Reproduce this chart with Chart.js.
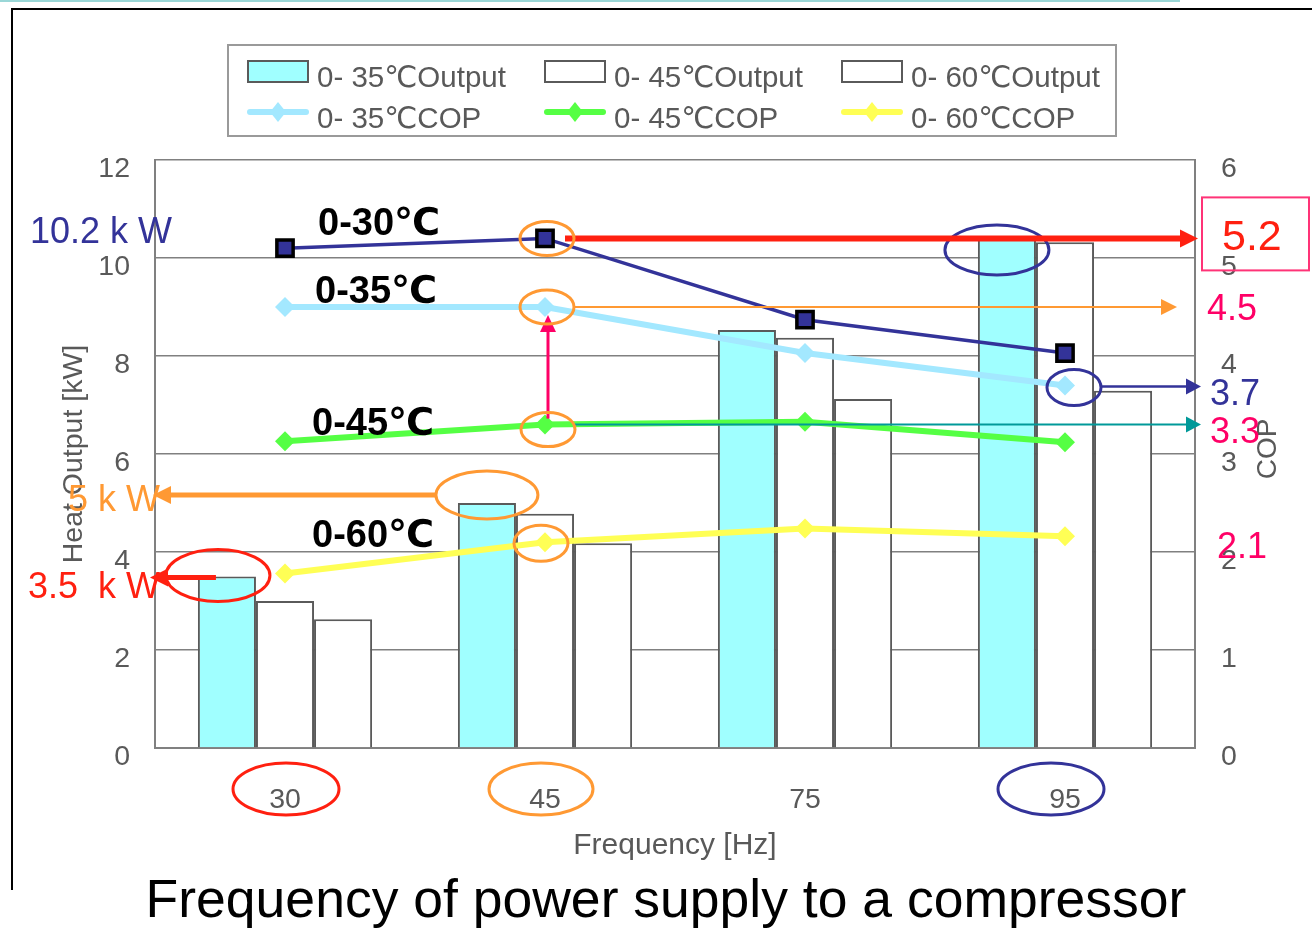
<!DOCTYPE html>
<html>
<head>
<meta charset="utf-8">
<script src="https://cdn.jsdelivr.net/npm/chart.js@4/dist/chart.umd.min.js"></script>
<style>
  html, body { margin: 0; padding: 0; background: #fff; overflow: hidden; }
  canvas { display: block; }
</style>
</head>
<body>
<canvas id="chart" width="1312" height="929"></canvas>
<script>
// Compressor frequency [Hz]
const frequencies = ['30', '45', '75', '95'];

// Heat output [kW] by outlet temperature range
const output35 = [3.5, 5.0, 8.53, 10.45];
const output45 = [3.0, 4.78, 8.37, 10.32];
const output60 = [2.63, 4.18, 7.12, 7.29];

// Coefficient of performance by outlet temperature range
const cop30 = [5.1, 5.2, 4.37, 4.03];
const cop35 = [4.5, 4.5, 4.03, 3.7];
const cop45 = [3.13, 3.3, 3.33, 3.12];
const cop60 = [1.78, 2.1, 2.24, 2.16];

// Axis ranges
const heatAxis = { min: 0, max: 12, step: 2 };
const copAxis = { min: 0, max: 6, step: 1 };

const FONT = "'Liberation Sans', Arial, 'DejaVu Sans', sans-serif";
const TICK_GRAY = '#595959';
const NAVY = '#333399';
const ORANGE = '#ff9933';
const RED = '#ff2010';
const PINK = '#ff0066';
const TEAL = '#009999';

function ellipse(ctx, cx, cy, rx, ry, color, w) {
  ctx.save();
  ctx.strokeStyle = color;
  ctx.lineWidth = w;
  ctx.beginPath();
  ctx.ellipse(cx, cy, rx, ry, 0, 0, Math.PI * 2);
  ctx.stroke();
  ctx.restore();
}

function arrow(ctx, x1, y1, x2, y2, color, w, headLen, headHalf) {
  const ang = Math.atan2(y2 - y1, x2 - x1);
  const bx = x2 - Math.cos(ang) * headLen;
  const by = y2 - Math.sin(ang) * headLen;
  ctx.save();
  ctx.strokeStyle = color;
  ctx.fillStyle = color;
  ctx.lineWidth = w;
  ctx.beginPath();
  ctx.moveTo(x1, y1);
  ctx.lineTo(bx + Math.cos(ang) * 2, by + Math.sin(ang) * 2);
  ctx.stroke();
  ctx.beginPath();
  ctx.moveTo(x2, y2);
  ctx.lineTo(bx + Math.sin(ang) * headHalf, by - Math.cos(ang) * headHalf);
  ctx.lineTo(bx - Math.sin(ang) * headHalf, by + Math.cos(ang) * headHalf);
  ctx.closePath();
  ctx.fill();
  ctx.restore();
}

function text(ctx, str, x, cy, size, color, opts = {}) {
  ctx.save();
  ctx.font = (opts.bold ? 'bold ' : '') + size + 'px ' + FONT;
  ctx.fillStyle = color;
  ctx.textAlign = opts.align || 'left';
  ctx.textBaseline = 'alphabetic';
  ctx.fillText(str, x, cy + size * 0.358);
  ctx.restore();
}

// Legend box, frame lines and call-out annotations
const overlay = {
  id: 'overlay',
  afterDraw(chart) {
    const ctx = chart.ctx;
    const area = chart.chartArea;
    const xs = chart.scales.x;
    const pt = (d, i) => chart.getDatasetMeta(d).data[i];

    // outer frame
    ctx.save();
    ctx.fillStyle = '#9ad7d7';
    ctx.fillRect(0, 0, 1180, 2);
    ctx.fillStyle = '#000';
    ctx.fillRect(12, 8, 1300, 2);
    ctx.fillRect(11, 8, 2, 882);
    ctx.restore();

    // legend
    ctx.save();
    ctx.strokeStyle = '#9a9a9a';
    ctx.lineWidth = 2;
    ctx.strokeRect(228, 45, 888, 91);
    ctx.restore();
    const cols = [248, 545, 842];
    const rows = [71, 112];
    const entries = chart.data.datasets
      .map((ds, i) => ({ ds, i }))
      .filter(e => e.ds.inLegend)
      .sort((a, b) => a.ds.legendSlot - b.ds.legendSlot);
    entries.forEach((e, k) => {
      const col = k % 3, row = Math.floor(k / 3);
      const x = cols[col], y = rows[row];
      const ds = e.ds;
      ctx.save();
      if (ds.type === 'bar') {
        ctx.fillStyle = ds.backgroundColor;
        ctx.fillRect(x, y - 10, 60, 21);
        ctx.strokeStyle = '#5a5a5a';
        ctx.lineWidth = 2;
        ctx.strokeRect(x, y - 10, 60, 21);
      } else {
        ctx.strokeStyle = ds.borderColor;
        ctx.lineWidth = 6;
        ctx.lineCap = 'round';
        ctx.beginPath();
        ctx.moveTo(x + 2, y);
        ctx.lineTo(x + 58, y);
        ctx.stroke();
        ctx.fillStyle = ds.borderColor;
        ctx.beginPath();
        ctx.moveTo(x + 30, y - 10);
        ctx.lineTo(x + 38, y);
        ctx.lineTo(x + 30, y + 10);
        ctx.lineTo(x + 22, y);
        ctx.closePath();
        ctx.fill();
      }
      ctx.restore();
      text(ctx, ds.label, x + 69, y + 5, 29.5, TICK_GRAY);
    });

    // COP axis title (reads bottom to top)
    ctx.save();
    ctx.translate(1268, (area.top + area.bottom) / 2 - 5);
    ctx.rotate(-Math.PI / 2);
    ctx.font = '28px ' + FONT;
    ctx.fillStyle = TICK_GRAY;
    ctx.textAlign = 'center';
    ctx.textBaseline = 'middle';
    ctx.fillText('COP', 0, 0);
    ctx.restore();

    // bar top call-outs
    const b30 = pt(4, 0), b45 = pt(4, 1), b95 = pt(4, 3);
    ellipse(ctx, b30.x - 9, b30.y - 1, 52, 26, RED, 3);
    ellipse(ctx, b45.x, b45.y - 8, 51, 24, ORANGE, 3);
    ellipse(ctx, b95.x - 10, b95.y + 14, 52, 25, NAVY, 3);

    // COP points at 45 Hz
    const a = pt(0, 1), b = pt(1, 1), c = pt(2, 1), d = pt(3, 1);
    const e = pt(1, 3);

    arrow(ctx, a.x + 20, a.y, area.right + 3, a.y, RED, 6, 18, 9);
    arrow(ctx, b.x + 30, b.y, area.right - 18, b.y, ORANGE, 2, 16, 8);
    arrow(ctx, e.x + 36, e.y + 1, area.right + 6, e.y + 1, NAVY, 2.5, 15, 8);
    arrow(ctx, c.x + 30, c.y, area.right + 6, c.y, TEAL, 2, 15, 8);
    arrow(ctx, c.x + 3, c.y - 6, c.x + 3, b.y + 8, PINK, 3, 17, 8);

    ellipse(ctx, a.x + 2, a.y, 27, 17, ORANGE, 3);
    ellipse(ctx, b.x + 2, b.y, 27, 17, ORANGE, 3);
    ellipse(ctx, c.x + 3, c.y + 5, 27, 17, ORANGE, 3);
    ellipse(ctx, d.x - 4, d.y + 1, 27, 18, ORANGE, 3);
    ellipse(ctx, e.x + 9, e.y + 2, 27, 18, NAVY, 3);

    // kW call-outs on the left
    const oy = b45.y - 8;
    arrow(ctx, b45.x - 51, oy, area.left - 2, oy, ORANGE, 5, 18, 9);
    arrow(ctx, b30.x - 11, b30.y + 1, area.left - 5, b30.y + 1, RED, 5, 18, 9);
    text(ctx, '10.2 k W', 30, pt(0, 0).y - 18, 36, NAVY);
    text(ctx, '5 k W', 68, oy + 3, 36, ORANGE);
    text(ctx, '3.5  k W', 28, b30.y + 9, 36, RED);

    // COP call-outs on the right
    ctx.save();
    ctx.strokeStyle = '#ff3377';
    ctx.lineWidth = 2;
    ctx.strokeRect(1202, a.y - 41, 107, 73);
    ctx.restore();
    text(ctx, '5.2', 1222, a.y - 4, 43, RED);
    text(ctx, '4.5', 1207, b.y, 36, PINK);
    text(ctx, '3.7', 1210, e.y + 7, 36, NAVY);
    text(ctx, '3.3', 1210, c.y + 6, 36, PINK);
    text(ctx, '2.1', 1217, d.y + 3, 36, PINK);

    // series names
    text(ctx, '0-30℃', 318, pt(0, 0).y - 27, 38, '#000', { bold: true });
    text(ctx, '0-35℃', 315, pt(1, 0).y - 18, 38, '#000', { bold: true });
    text(ctx, '0-45℃', 312, pt(2, 0).y - 20, 38, '#000', { bold: true });
    text(ctx, '0-60℃', 312, pt(3, 0).y - 40, 38, '#000', { bold: true });

    // circled frequencies
    const ty = area.bottom + 41;
    ellipse(ctx, xs.getPixelForValue(0) + 1, ty, 53, 26, RED, 3);
    ellipse(ctx, xs.getPixelForValue(1) - 4, ty, 52, 26, ORANGE, 3);
    ellipse(ctx, xs.getPixelForValue(3) - 14, ty, 53, 26, NAVY, 3);

    // caption
    text(ctx, 'Frequency of power supply to a compressor', 666, 898, 53.5, '#000', { align: 'center' });
  }
};

const lineBase = { type: 'line', yAxisID: 'cop', tension: 0, fill: false, order: 1 };
const barBase = { type: 'bar', yAxisID: 'kw', borderColor: '#5a5a5a', borderWidth: 2, order: 10 };

new Chart(document.getElementById('chart'), {
  data: {
    labels: frequencies,
    datasets: [
      { ...lineBase, label: '0-30℃COP', data: cop30, borderColor: NAVY, borderWidth: 3.5,
        pointStyle: 'rect', pointRadius: 11.5, pointBackgroundColor: NAVY,
        pointBorderColor: '#000', pointBorderWidth: 3.5, inLegend: false },
      { ...lineBase, label: '0- 35℃COP', data: cop35, borderColor: '#a3e8ff', borderWidth: 6,
        pointStyle: 'rectRot', pointRadius: 10, pointBackgroundColor: '#a3e8ff',
        pointBorderColor: '#a3e8ff', pointBorderWidth: 0, inLegend: true, legendSlot: 4 },
      { ...lineBase, label: '0- 45℃COP', data: cop45, borderColor: '#55ff44', borderWidth: 6,
        pointStyle: 'rectRot', pointRadius: 10, pointBackgroundColor: '#55ff44',
        pointBorderColor: '#55ff44', pointBorderWidth: 0, inLegend: true, legendSlot: 5 },
      { ...lineBase, label: '0- 60℃COP', data: cop60, borderColor: '#ffff55', borderWidth: 6,
        pointStyle: 'rectRot', pointRadius: 10, pointBackgroundColor: '#ffff55',
        pointBorderColor: '#ffff55', pointBorderWidth: 0, inLegend: true, legendSlot: 6 },
      { ...barBase, label: '0- 35℃Output', data: output35, backgroundColor: '#a0ffff', inLegend: true, legendSlot: 1 },
      { ...barBase, label: '0- 45℃Output', data: output45, backgroundColor: '#ffffff', inLegend: true, legendSlot: 2 },
      { ...barBase, label: '0- 60℃Output', data: output60, backgroundColor: '#ffffff', inLegend: true, legendSlot: 3 }
    ]
  },
  options: {
    responsive: false,
    animation: false,
    devicePixelRatio: 1,
    layout: { padding: { top: 160, left: 0, right: 0, bottom: 0 } },
    datasets: { bar: { categoryPercentage: 0.67, barPercentage: 1.0 } },
    plugins: { legend: { display: false }, tooltip: { enabled: false } },
    scales: {
      x: {
        type: 'category',
        offset: true,
        grid: { display: false, drawTicks: false },
        border: { display: true, color: '#808080', width: 2 },
        ticks: { color: TICK_GRAY, font: { family: FONT, size: 28.5 }, padding: 35 },
        title: { display: true, text: 'Frequency [Hz]', color: TICK_GRAY,
                 font: { family: FONT, size: 30 }, padding: { top: 0, bottom: 65 } },
        afterFit(s) { s.height = 181; }
      },
      kw: {
        type: 'linear', position: 'left',
        min: heatAxis.min, max: heatAxis.max,
        ticks: { stepSize: heatAxis.step, color: TICK_GRAY, font: { family: FONT, size: 28.5 }, padding: 25, labelOffset: 9 },
        grid: { color: '#808080', lineWidth: 1.5, drawTicks: false },
        border: { color: '#808080', width: 2 },
        title: { display: true, text: 'Heat Output [kW]', color: TICK_GRAY,
                 font: { family: FONT, size: 28.5 }, padding: { top: 57, bottom: 0 } },
        afterFit(s) { s.width = 155; }
      },
      cop: {
        type: 'linear', position: 'right',
        min: copAxis.min, max: copAxis.max,
        ticks: { stepSize: copAxis.step, color: TICK_GRAY, font: { family: FONT, size: 28.5 }, padding: 26, labelOffset: 9 },
        grid: { drawOnChartArea: false, drawTicks: false },
        border: { color: '#808080', width: 2 },
        afterFit(s) { s.width = 117; }
      }
    }
  },
  plugins: [overlay]
});
</script>
</body>
</html>
